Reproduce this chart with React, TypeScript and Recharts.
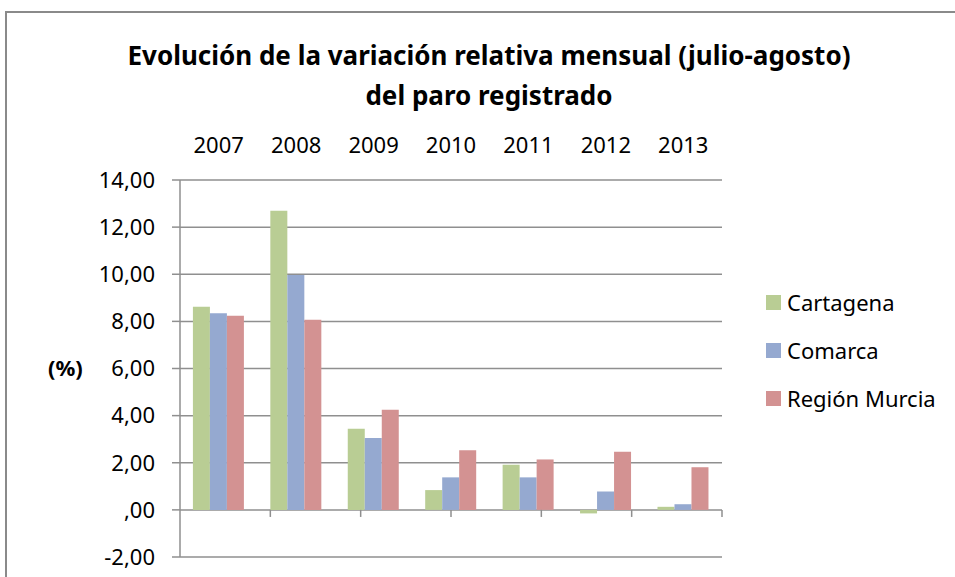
import React from "react";
import {
  Bar,
  BarChart,
  CartesianGrid,
  Label,
  ReferenceLine,
  XAxis,
  YAxis,
} from "recharts";

// Monthly relative change (July→August) of registered unemployment, in %.
const YEARS = ["2007", "2008", "2009", "2010", "2011", "2012", "2013"];
const CARTAGENA = [8.62, 12.7, 3.44, 0.84, 1.92, -0.15, 0.13];
const COMARCA = [8.35, 9.97, 3.05, 1.38, 1.38, 0.78, 0.24];
const REGION_MURCIA = [8.24, 8.07, 4.25, 2.53, 2.14, 2.47, 1.81];
const Y_TICKS = [-2, 0, 2, 4, 6, 8, 10, 12, 14];

const SERIES = [
  { key: "cartagena", name: "Cartagena", color: "#B9CD94" },
  { key: "comarca", name: "Comarca", color: "#95A9D0" },
  { key: "murcia", name: "Región Murcia", color: "#D39292" },
];

const FONT = '"Noto Sans", "Open Sans", sans-serif';
const GRID = "#8f8f8f";

const data = YEARS.map((year, i) => ({
  year,
  cartagena: CARTAGENA[i],
  comarca: COMARCA[i],
  murcia: REGION_MURCIA[i],
}));

// category boundaries on the zero line (Excel-style tick marks)
const BOUNDARIES = YEARS.map((_, i) => i + 1);

// Spanish Excel format: 6 -> "6,00", 0 -> ",00"
function fmtTick(v: number): string {
  const s = v.toFixed(2).replace(".", ",");
  return s.startsWith("0,") ? s.slice(1) : s;
}

// NOTE: legend drawn as plain HTML — Recharts' Legend reserves space in the
// plot offsets, which would squeeze the fixed plot box.
function LegendBox(): React.ReactElement {
  return (
    <div
      style={{
        position: "absolute",
        left: 766,
        top: 278,
        fontSize: 22,
        color: "#000",
      }}
    >
      {SERIES.map((s) => (
        <div
          key={s.key}
          style={{ display: "flex", alignItems: "center", height: 48 }}
        >
          <span
            style={{
              display: "inline-block",
              width: 15,
              height: 15,
              background: s.color,
              marginRight: 6,
            }}
          />
          <span>{s.name}</span>
        </div>
      ))}
    </div>
  );
}

export default function App(): React.ReactElement {
  return (
    <div
      style={{
        position: "absolute",
        left: 0,
        top: 0,
        width: 955,
        height: 577,
        background: "#fff",
        fontFamily: FONT,
        overflow: "hidden",
      }}
    >
      {/* chart frame, only its left and top edges are in view */}
      <div
        style={{
          position: "absolute",
          left: 5,
          top: 11,
          width: 1000,
          height: 700,
          borderLeft: "2px solid #8a8a8a",
          borderTop: "2px solid #8a8a8a",
        }}
      />
      <div
        style={{
          position: "absolute",
          left: 0,
          width: 978,
          top: 35,
          textAlign: "center",
          fontWeight: 700,
          fontSize: 26,
          lineHeight: "40px",
          color: "#000",
        }}
      >
        Evolución de la variación relativa mensual (julio-agosto)
        <br />
        del paro registrado
      </div>
      <BarChart
        width={955}
        height={577}
        data={data}
        margin={{ top: 140, right: 233, bottom: 20, left: 0 }}
        barCategoryGap="16.67%"
        barGap={0}
        style={{ position: "absolute", left: 0, top: 0 }}
      >
        <CartesianGrid
          xAxisId="cat"
          vertical={false}
          stroke={GRID}
          strokeWidth={1.5}
        />
        <XAxis
          xAxisId="cat"
          dataKey="year"
          orientation="top"
          height={40}
          axisLine={false}
          tickLine={false}
          tickSize={0}
          tickMargin={27}
          tick={{ fill: "#000", fontSize: 22, fontFamily: FONT }}
        />
        <XAxis
          xAxisId="idx"
          type="number"
          domain={[0, YEARS.length]}
          hide
          height={0}
        />
        <YAxis
          width={180}
          domain={[-2, 14]}
          ticks={Y_TICKS}
          interval={0}
          tickFormatter={fmtTick}
          tickSize={8}
          tickMargin={17}
          axisLine={{ stroke: GRID, strokeWidth: 1.5 }}
          tickLine={{ stroke: GRID, strokeWidth: 1.5 }}
          tick={{ fill: "#000", fontSize: 22, fontFamily: FONT }}
        >
          <Label
            value="(%)"
            position="insideLeft"
            offset={48}
            style={{ fill: "#000", fontSize: 22, fontWeight: 700, fontFamily: FONT }}
          />
        </YAxis>
        {BOUNDARIES.map((b) => (
          <ReferenceLine
            key={b}
            xAxisId="idx"
            segment={[
              { x: b, y: 0 },
              { x: b, y: -0.3 },
            ]}
            stroke={GRID}
            strokeWidth={1.5}
          />
        ))}
        {SERIES.map((s) => (
          <Bar
            key={s.key}
            xAxisId="cat"
            dataKey={s.key}
            name={s.name}
            fill={s.color}
            isAnimationActive={false}
          />
        ))}
      </BarChart>
      <LegendBox />
    </div>
  );
}
